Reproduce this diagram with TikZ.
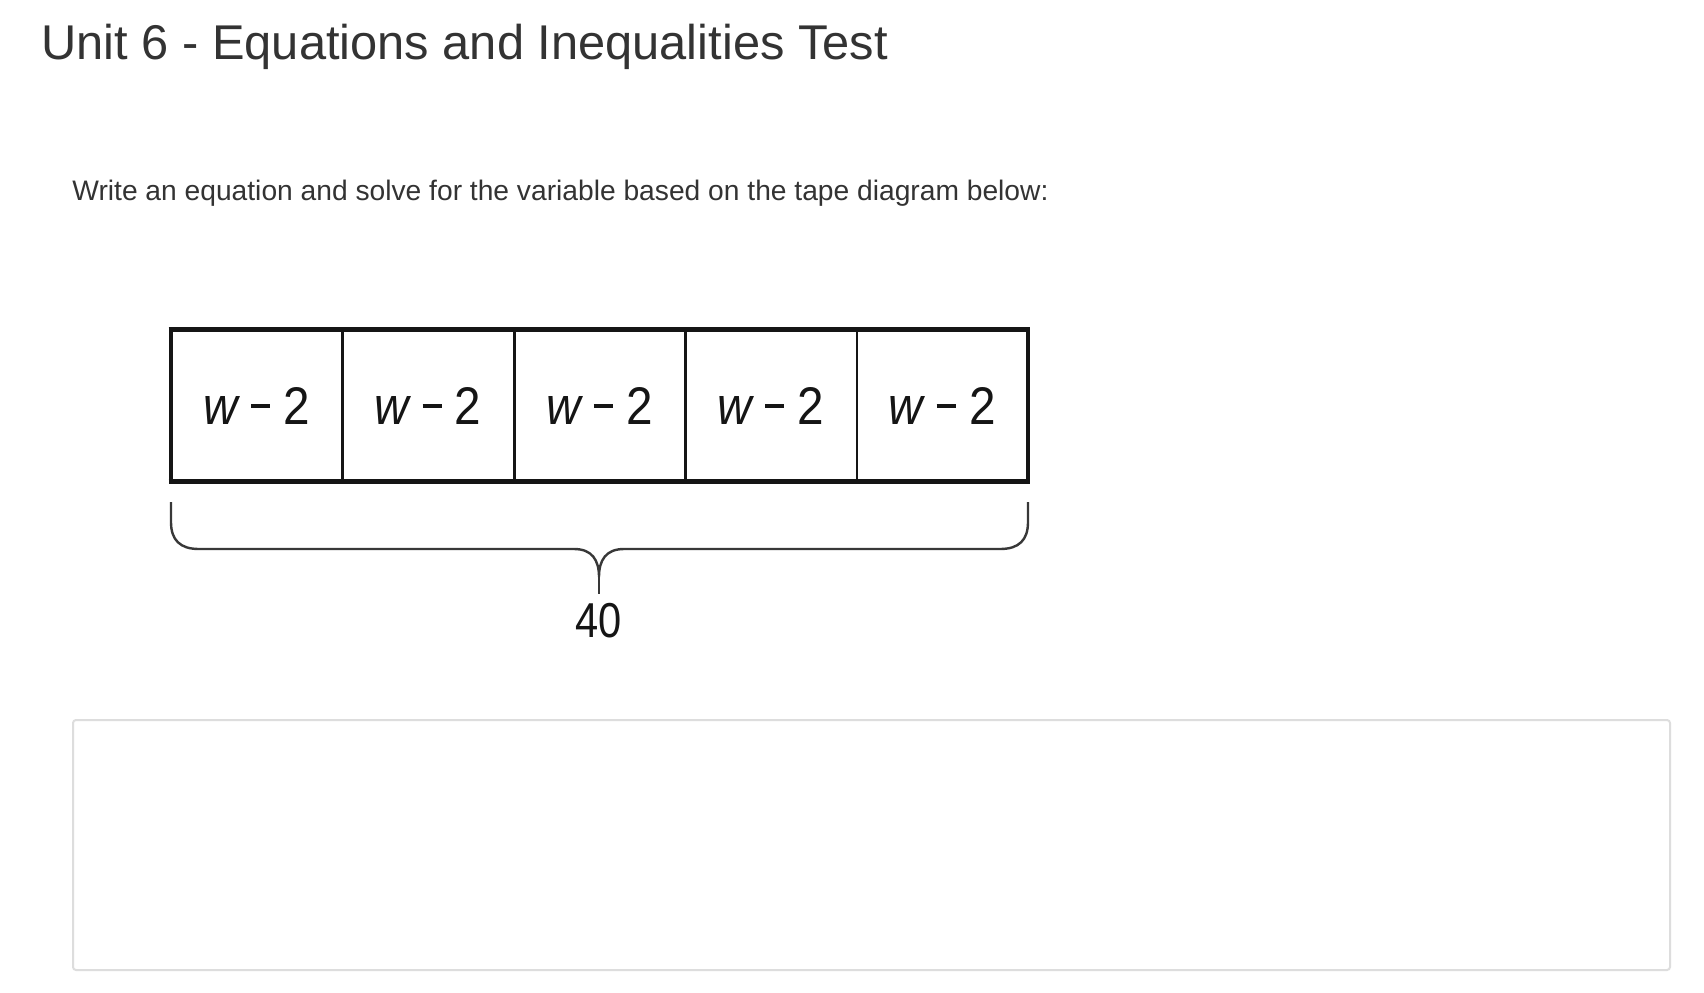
\documentclass[tikz,border=0pt]{standalone}
\usepackage{fontspec}
\setmainfont{Liberation Sans}
\definecolor{titlegray}{HTML}{333333}
\definecolor{boxgray}{HTML}{DDDDDD}
\definecolor{inkblack}{HTML}{151515}
\newcommand{\tapelabel}{\scalebox{0.9}[1]{\fontsize{26.5}{30}\selectfont{\itshape w}\hspace{0.28em}\rule[0.3em]{0.4em}{0.075em}\hspace{0.28em}2}}
\begin{document}
\begin{tikzpicture}[x=0.5pt,y=-0.5pt,
  cell/.style={rectangle,inner sep=0pt,minimum width=85.7pt,minimum height=75.5pt,text=inkblack},
  thinline/.style={draw=inkblack,line width=1.4pt},
  thickline/.style={draw=inkblack,line width=2.4pt},
  bracestyle/.style={draw=inkblack!85,line width=1.2pt,line join=round}]
\useasboundingbox (0,0) rectangle (1704,992);
\fill[white] (0,0) rectangle (1704,992);

% title and prompt
\node[anchor=base west,inner sep=0pt,text=titlegray,font=\fontsize{24.4}{28}\selectfont] (title) at (41,59) {Unit 6 - Equations and Inequalities Test};
\node[anchor=base west,inner sep=0pt,text=titlegray,font=\fontsize{14.1}{17}\selectfont] (prompt) at (72,200) {Write an equation and solve for the variable based on the tape diagram below:};

% tape cells
\foreach \i in {1,...,5}{
  \node[cell] (c\i) at ({171+(\i-0.5)*171.4},405.5) {\tapelabel};
}
% dividers
\foreach \i in {1,2,3,4}{
  \draw[thinline] (c\i.north east) -- (c\i.south east);
}
\draw[thickline,line width=2pt] (c1.north west) -- (c1.south west);
\draw[thickline,line width=2pt] (c5.north east) -- (c5.south east);
\draw[thickline] ([xshift=-1pt]c1.north west) -- ([xshift=1pt]c5.north east);
\draw[thickline] ([xshift=-1pt]c1.south west) -- ([xshift=1pt]c5.south east);

% brace
\coordinate (bl) at (171,502);
\coordinate (br) at (1028,502);
\coordinate (tip) at (599,577);
\coordinate (stub) at (599,594);
\draw[bracestyle] (bl) -- (171,522) .. controls (171,540) and (180,549) .. (199,549)
  -- (574,549) .. controls (592,549) and (599,560) .. (tip)
  .. controls (599,560) and (606,549) .. (624,549)
  -- (1000,549) .. controls (1019,549) and (1028,540) .. (1028,522) -- (br);
\draw[bracestyle] (tip) -- (stub);
\node[inner sep=0pt,text=inkblack] (total) at (599,620.5) {\scalebox{0.85}[1]{\fontsize{24.5}{28}\selectfont 40}};

% answer box
\node[draw=boxgray,line width=1pt,rounded corners=1.5pt,rectangle,minimum width=798.5pt,minimum height=125pt,inner sep=0pt] (answer) at (871.5,845) {};
\end{tikzpicture}
\end{document}
